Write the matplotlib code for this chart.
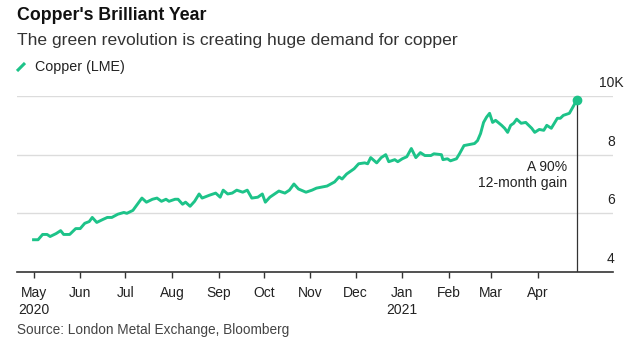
import pandas as pd
import matplotlib
matplotlib.use('Agg')
import matplotlib.pyplot as plt
from matplotlib.lines import Line2D

plt.rcParams['font.family'] = ['Liberation Sans', 'DejaVu Sans']

# LME copper, thousands of USD per tonne
dates = ['2020-05-01', '2020-05-04', '2020-05-07', '2020-05-10', '2020-05-12', '2020-05-16',
         '2020-05-19', '2020-05-21', '2020-05-25', '2020-05-29', '2020-06-01', '2020-06-04',
         '2020-06-07', '2020-06-09', '2020-06-12', '2020-06-16', '2020-06-19', '2020-06-22',
         '2020-06-26', '2020-06-30', '2020-07-02', '2020-07-06', '2020-07-09', '2020-07-12',
         '2020-07-15', '2020-07-19', '2020-07-22', '2020-07-25', '2020-07-28', '2020-07-30',
         '2020-08-03', '2020-08-05', '2020-08-08', '2020-08-10', '2020-08-13', '2020-08-16',
         '2020-08-19', '2020-08-21', '2020-08-26', '2020-08-30', '2020-09-02', '2020-09-04',
         '2020-09-07', '2020-09-10', '2020-09-13', '2020-09-17', '2020-09-20', '2020-09-23',
         '2020-09-27', '2020-09-30', '2020-10-02', '2020-10-05', '2020-10-09', '2020-10-11',
         '2020-10-15', '2020-10-18', '2020-10-21', '2020-10-24', '2020-10-29', '2020-11-02',
         '2020-11-05', '2020-11-12', '2020-11-17', '2020-11-20', '2020-11-22', '2020-11-25',
         '2020-11-30', '2020-12-03', '2020-12-07', '2020-12-09', '2020-12-11', '2020-12-15',
         '2020-12-18', '2020-12-21', '2020-12-23', '2020-12-27', '2020-12-29', '2021-01-01',
         '2021-01-04', '2021-01-07', '2021-01-10', '2021-01-13', '2021-01-16', '2021-01-20',
         '2021-01-22', '2021-01-27', '2021-01-28', '2021-01-31', '2021-02-02', '2021-02-06',
         '2021-02-08', '2021-02-11', '2021-02-14', '2021-02-18', '2021-02-20', '2021-02-22',
         '2021-02-24', '2021-02-26', '2021-02-28', '2021-03-02', '2021-03-04', '2021-03-08',
         '2021-03-10', '2021-03-12', '2021-03-14', '2021-03-16', '2021-03-18', '2021-03-21',
         '2021-03-24', '2021-03-26', '2021-03-28', '2021-03-30', '2021-04-02', '2021-04-05',
         '2021-04-07', '2021-04-10', '2021-04-14', '2021-04-16', '2021-04-18', '2021-04-22',
         '2021-04-24', '2021-04-27']
copper = [5.10, 5.10, 5.28, 5.28, 5.21, 5.31, 5.41, 5.28, 5.28, 5.48, 5.48, 5.66,
          5.72, 5.86, 5.69, 5.79, 5.86, 5.86, 5.97, 6.03, 6.00, 6.10, 6.31, 6.52,
          6.38, 6.48, 6.52, 6.41, 6.48, 6.41, 6.48, 6.48, 6.31, 6.38, 6.24, 6.41,
          6.66, 6.52, 6.62, 6.69, 6.55, 6.79, 6.66, 6.69, 6.79, 6.72, 6.79, 6.52,
          6.55, 6.66, 6.38, 6.55, 6.69, 6.76, 6.69, 6.79, 7.00, 6.83, 6.72, 6.79,
          6.86, 6.93, 7.07, 7.24, 7.17, 7.34, 7.52, 7.69, 7.72, 7.69, 7.90, 7.72,
          7.90, 8.00, 7.76, 7.83, 7.76, 7.86, 7.93, 8.21, 7.90, 8.07, 7.97, 7.97,
          8.03, 8.00, 7.83, 7.86, 7.79, 7.86, 8.03, 8.31, 8.34, 8.38, 8.48, 8.72,
          9.10, 9.28, 9.41, 9.10, 9.17, 9.00, 8.90, 8.76, 9.00, 9.07, 9.21, 9.07,
          9.10, 9.00, 8.90, 8.76, 8.86, 8.83, 9.00, 8.90, 9.24, 9.24, 9.34, 9.41,
          9.59, 9.87]

month_ticks = ['2020-05-01', '2020-06-01', '2020-07-01', '2020-08-01', '2020-09-01', '2020-10-01',
               '2020-11-01', '2020-12-01', '2021-01-01', '2021-02-01', '2021-03-01', '2021-04-01']
month_labels = ['May\n2020', 'Jun', 'Jul', 'Aug', 'Sep', 'Oct', 'Nov', 'Dec',
                'Jan\n2021', 'Feb', 'Mar', 'Apr']
y_ticks = [4, 6, 8, 10]
y_labels = ['4', '6', '8', '10K']

GREEN = '#1dc389'

df = pd.DataFrame({'date': pd.to_datetime(dates), 'copper': copper})

fig = plt.figure(figsize=(6.4, 3.48), dpi=100)
ax = fig.add_axes([17 / 640, 1 - 272 / 348, 596 / 640, 176 / 348])

for v in y_ticks[1:]:
    ax.axhline(v, color='#dcdcdc', lw=1.0, zorder=1)

ax.plot(df['date'], df['copper'], color=GREEN, lw=2.1, zorder=3, solid_joinstyle='round')

# latest value marker and drop line
last = df.iloc[-1]
ax.plot([last['date'], last['date']], [4, last['copper']], color='#333333', lw=0.9, zorder=2)
ax.plot(last['date'], last['copper'], 'o', color=GREEN, ms=6, zorder=4, clip_on=False)
ax.annotate('A 90%\n12-month gain', xy=(last['date'], 8), xycoords='data',
            xytext=(-7, -4), textcoords='offset points', ha='right', va='top',
            fontsize=10, color='#222222', linespacing=1.15)

ax.set_xlim(pd.Timestamp('2020-04-20'), pd.Timestamp('2021-05-21'))
ax.set_ylim(4, 10)

ax.set_xticks(pd.to_datetime(month_ticks))
ax.set_xticklabels(month_labels, fontsize=10, color='#222222', linespacing=1.3)
ax.tick_params(axis='x', length=4, width=1, color='#333333', pad=6)
ax.set_yticks([])

for v, lab in zip(y_ticks, y_labels):
    ax.annotate(lab, xy=(1, v), xycoords=('axes fraction', 'data'),
                xytext=(-1.5, 9.4), textcoords='offset points',
                ha='center', va='center', fontsize=10, color='#222222')

for s in ['top', 'right', 'left']:
    ax.spines[s].set_visible(False)
ax.spines['bottom'].set_color('#333333')
ax.spines['bottom'].set_linewidth(1.2)

fig.text(17 / 640, 1 - 16 / 348, "Copper's Brilliant Year", fontsize=12.8,
         fontweight='bold', color='#111111', va='center')
fig.text(17 / 640, 1 - 41 / 348, 'The green revolution is creating huge demand for copper',
         fontsize=12.6, color='#333333', va='center')
fig.add_artist(Line2D([17 / 640, 25 / 640], [1 - 71 / 348, 1 - 63 / 348],
                      color=GREEN, lw=2.2, solid_capstyle='butt'))
fig.text(35 / 640, 1 - 67 / 348, 'Copper (LME)', fontsize=10.3, color='#222222', va='center')
fig.text(17 / 640, 1 - 330 / 348, 'Source: London Metal Exchange, Bloomberg',
         fontsize=9.8, color='#444444', va='center')

fig.savefig('out.png', dpi=100, facecolor='white')
